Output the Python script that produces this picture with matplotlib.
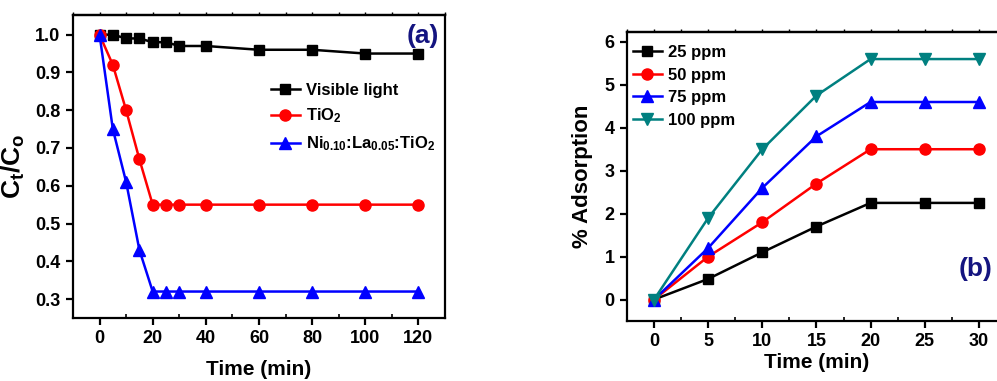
import numpy as np
import matplotlib
matplotlib.use('Agg')
import matplotlib.pyplot as plt


plt.rcParams['font.family'] = ['Liberation Sans', 'DejaVu Sans']
plt.rcParams['font.weight'] = 'bold'
plt.rcParams['mathtext.fontset'] = 'custom'
plt.rcParams['mathtext.rm'] = 'Liberation Sans:bold'
plt.rcParams['mathtext.it'] = 'Liberation Sans:bold'
plt.rcParams['mathtext.bf'] = 'Liberation Sans:bold'
plt.rcParams['mathtext.default'] = 'rm'

# data, panel (a)
time_a = [0, 5, 10, 15, 20, 25, 30, 40, 60, 80, 100, 120]
visible = [1.0, 1.0, 0.99, 0.99, 0.98, 0.98, 0.97, 0.97, 0.96, 0.96, 0.95, 0.95]
tio2 = [1.0, 0.92, 0.80, 0.67, 0.55, 0.55, 0.55, 0.55, 0.55, 0.55, 0.55, 0.55]
nila = [1.0, 0.75, 0.61, 0.43, 0.32, 0.32, 0.32, 0.32, 0.32, 0.32, 0.32, 0.32]
labels_a = ['Visible light', 'TiO$_2$', 'Ni$_{0.10}$:La$_{0.05}$:TiO$_2$']

# data, panel (b)
time_b = [0, 5, 10, 15, 20, 25, 30]
ppm25 = [0, 0.48, 1.1, 1.7, 2.25, 2.25, 2.25]
ppm50 = [0, 1.0, 1.8, 2.7, 3.5, 3.5, 3.5]
ppm75 = [0, 1.2, 2.6, 3.8, 4.6, 4.6, 4.6]
ppm100 = [0, 1.9, 3.5, 4.75, 5.6, 5.6, 5.6]
labels_b = ['25 ppm', '50 ppm', '75 ppm', '100 ppm']

fig = plt.figure(figsize=(9.97, 3.81), dpi=100)
ax1 = fig.add_axes([0.0732, 0.1654, 0.3731, 0.7952])
ax2 = fig.add_axes([0.6289, 0.1575, 0.380, 0.7585])


def style(ax, xmaj, xmin):
    for s in ax.spines.values():
        s.set_linewidth(1.6)
    ax.xaxis.set_major_locator(plt.MultipleLocator(xmaj))
    ax.xaxis.set_minor_locator(plt.MultipleLocator(xmin))
    ax.tick_params(which='major', direction='out', length=5, width=1.6,
                   labelsize=13, pad=4)
    ax.tick_params(axis='x', which='minor', direction='in', length=3, width=1.2)
    ax.tick_params(axis='y', which='minor', left=False)
    top = ax.secondary_xaxis('top')
    top.xaxis.set_major_locator(plt.MultipleLocator(xmin))
    top.tick_params(direction='out', length=2, width=1.0, labeltop=False)
    top.spines['top'].set_linewidth(1.6)
    for lab in ax.get_xticklabels() + ax.get_yticklabels():
        lab.set_fontweight('bold')


# panel (a)
lw = 1.8
ax1.plot(time_a, visible, '-s', color='black', lw=lw, ms=7, label=labels_a[0])
ax1.plot(time_a, tio2, '-o', color='red', lw=lw, ms=8, label=labels_a[1])
ax1.plot(time_a, nila, '-^', color='blue', lw=lw, ms=8.5, label=labels_a[2])
ax1.set_xlim(-10, 130)
ax1.set_ylim(0.25, 1.052)
ax1.yaxis.set_major_locator(plt.MultipleLocator(0.1))
ax1.yaxis.set_major_formatter(plt.FormatStrFormatter('%.1f'))
style(ax1, 20, 10)
ax1.set_xlabel('Time (min)', fontsize=15, fontweight='bold', labelpad=9)
ax1.set_ylabel('C$_t$/C$_o$', fontsize=19, fontweight='bold', labelpad=6)
ax1.text(0.985, 0.97, '(a)', transform=ax1.transAxes, ha='right', va='top',
         fontsize=19, fontweight='bold', color='#141480')
ax1.legend(loc='upper right', bbox_to_anchor=(1.0, 0.81), frameon=False,
           fontsize=12, handlelength=1.75, handletextpad=0.35, labelspacing=0.55,
           borderaxespad=0.2)

# panel (b)
ax2.plot(time_b, ppm25, '-s', color='black', lw=lw, ms=7, label=labels_b[0])
ax2.plot(time_b, ppm50, '-o', color='red', lw=lw, ms=8, label=labels_b[1])
ax2.plot(time_b, ppm75, '-^', color='blue', lw=lw, ms=8.5, label=labels_b[2])
ax2.plot(time_b, ppm100, '-v', color='#008080', lw=lw, ms=8.5, label=labels_b[3])
ax2.set_xlim(-2.5, 32.5)
ax2.set_ylim(-0.5, 6.23)
ax2.yaxis.set_major_locator(plt.MultipleLocator(1))
style(ax2, 5, 2.5)
ax2.set_xlabel('Time (min)', fontsize=15, fontweight='bold', labelpad=2)
ax2.set_ylabel('% Adsorption', fontsize=16, fontweight='bold', labelpad=8)
ax2.text(0.965, 0.18, '(b)', transform=ax2.transAxes, ha='right', va='center',
         fontsize=19, fontweight='bold', color='#141480')
ax2.legend(loc='upper left', bbox_to_anchor=(0.0, 0.975), frameon=False,
           fontsize=12, handlelength=1.75, handletextpad=0.35, labelspacing=0.45,
           borderaxespad=0.0, borderpad=0.35)

fig.savefig('out.png', dpi=100)
